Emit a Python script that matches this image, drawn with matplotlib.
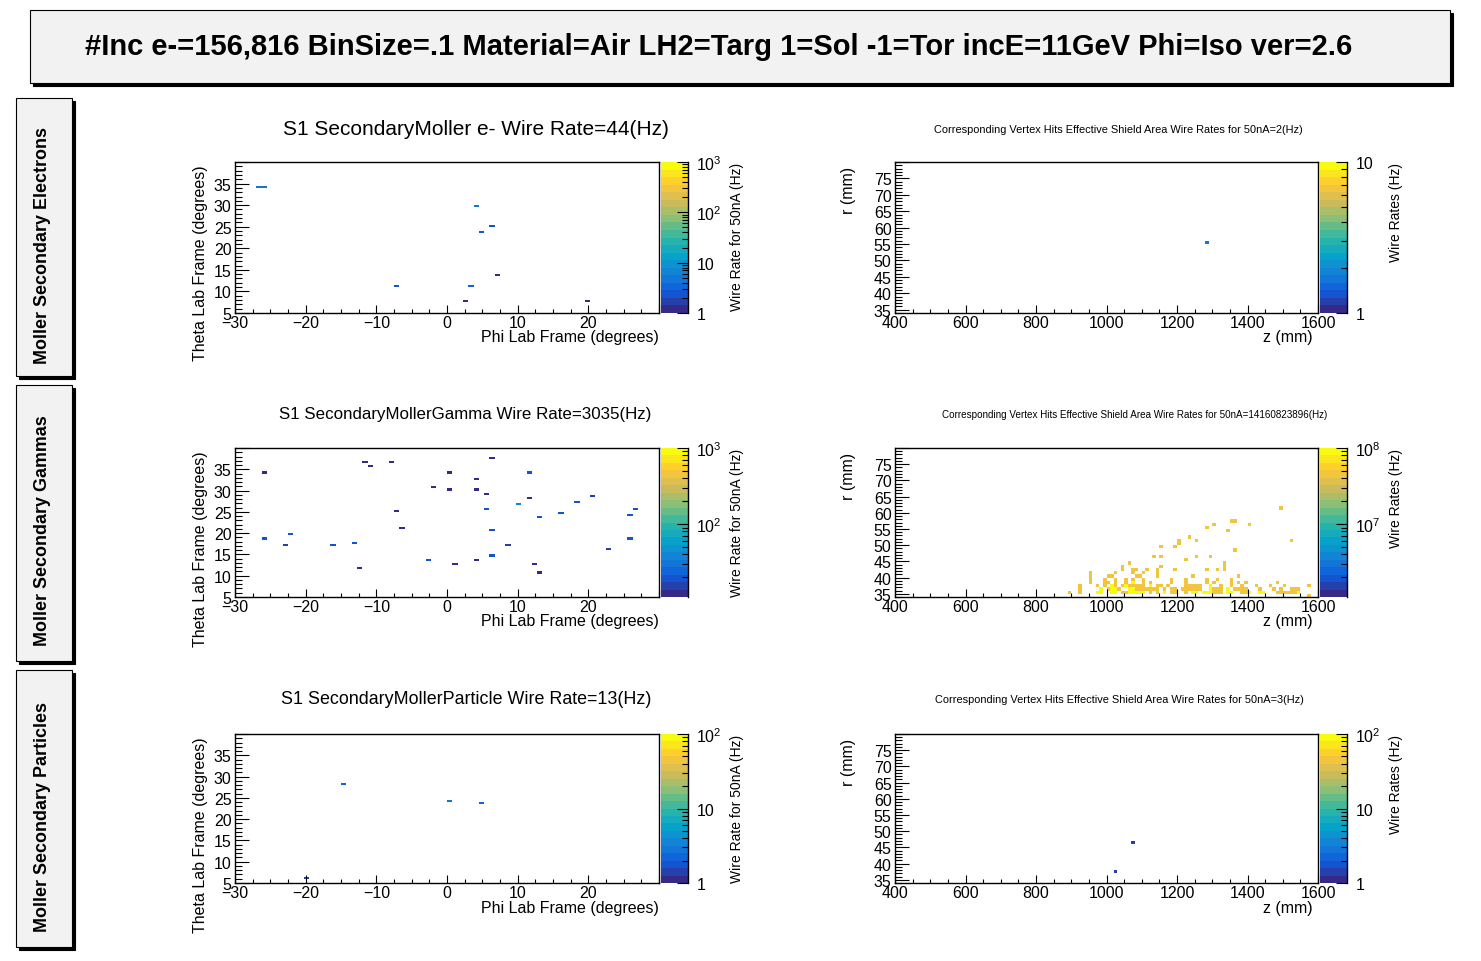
import matplotlib
matplotlib.use('Agg')
import matplotlib.pyplot as plt
import numpy as np
from matplotlib.colors import LinearSegmentedColormap, LogNorm
from matplotlib.patches import Rectangle
from matplotlib.ticker import MultipleLocator, LogLocator, FuncFormatter, NullFormatter

plt.rcParams['font.family'] = ['Liberation Sans', 'DejaVu Sans']
plt.rcParams['mathtext.fontset'] = 'custom'
plt.rcParams['mathtext.rm'] = 'Liberation Sans'
plt.rcParams['mathtext.it'] = 'Liberation Sans:italic'

W, H = 1481, 962

main_title = '#Inc e-=156,816 BinSize=.1 Material=Air LH2=Targ 1=Sol -1=Tor incE=11GeV Phi=Iso ver=2.6'
row_labels = ['Moller Secondary Electrons', 'Moller Secondary Gammas', 'Moller Secondary Particles']
hit_titles = ['S1 SecondaryMoller e- Wire Rate=44(Hz)',
              'S1 SecondaryMollerGamma Wire Rate=3035(Hz)',
              'S1 SecondaryMollerParticle Wire Rate=13(Hz)']
vtx_titles = ['Corresponding Vertex Hits Effective Shield Area Wire Rates for 50nA=2(Hz)',
              'Corresponding Vertex Hits Effective Shield Area Wire Rates for 50nA=14160823896(Hz)',
              'Corresponding Vertex Hits Effective Shield Area Wire Rates for 50nA=3(Hz)']

# wire hits: phi (deg), theta (deg), rate (Hz)
ele_phi = [-26.3, -25.6, 3.9, 6.3, 4.7, 7.1, -7.3, 3.1, 2.3, 19.8]
ele_theta = [34.3, 34.3, 29.8, 25.4, 23.8, 13.7, 11.3, 11.3, 7.7, 7.7]
ele_rate = [4.5, 4.5, 4.5, 2.3, 2.3, 1.3, 2.3, 3.5, 1.3, 1.3]

gam_phi = [-25.6, -25.6, -22.5, -23.2, -16.1, -12.9, -12.1, -11.3, -10.6, -8.2,
           -7.3, -6.5, -2.5, -1.7, 0.7, 0.7, 1.4, 3.8, 3.8, 3.8,
           5.5, 5.5, 6.2, 6.2, 6.2, 8.6, 10.2, 11.9, 11.9, 12.6,
           13.4, 13.4, 15.8, 18.2, 20.6, 23.0, 26.2, 26.2, 26.9]
gam_theta = [34.4, 18.8, 19.5, 17.3, 17.3, 17.7, 11.7, 36.8, 35.7, 36.5,
             25.2, 21.2, 13.6, 30.8, 34.4, 30.0, 12.5, 32.8, 30.0, 13.6,
             29.3, 25.6, 37.7, 20.8, 14.5, 17.3, 26.8, 34.4, 28.0, 12.5,
             23.6, 10.8, 24.5, 27.2, 28.8, 16.4, 24.0, 18.5, 25.6]
gam_rate = [13, 19, 19, 14, 20, 19, 13, 13, 13, 13,
            13, 13, 20, 13, 13, 13, 13, 13, 13, 13,
            13, 19, 13, 19, 20, 17, 40, 19, 13, 13,
            19, 13, 19, 19, 17, 14, 20, 19, 19]

par_phi = [-20.0, -14.4, 0.7, 4.7]
par_theta = [6.1, 28.4, 24.0, 23.6]
par_rate = [1.3, 2.2, 2.8, 2.4]

# vertex hits: z (mm), r (mm), rate (Hz)
vtx_ele_z = [1285]
vtx_ele_r = [55.5]
vtx_ele_rate = [1.7]

vtx_par_z = [1025, 1075]
vtx_par_r = [37.5, 46.5]
vtx_par_rate = [1.4, 1.4]

# gamma vertices, one entry per r row: lower-rate (orange) and top-rate (yellow) cells
vtx_gam_rows = [34.5, 35.5, 36.5, 37.5, 38.5, 39.5, 40.5, 41.5, 42.5, 43.5, 44.5, 45.5,
                46.5, 48.5, 49.5, 50.5, 51.5, 52.5, 54.5, 55.5, 56.5, 57.5, 61.5]
vtx_gam_z_lo = [
    [1575],
    [895, 925, 1045, 1055, 1125, 1145, 1185, 1195, 1225, 1305, 1315, 1325, 1385, 1395, 1485, 1495, 1505, 1515,
     1525, 1535],
    [925, 1035, 1095, 1105, 1115, 1125, 1135, 1145, 1165, 1185, 1195, 1215, 1225, 1235, 1245, 1255, 1265, 1305,
     1315, 1325, 1365, 1375, 1385, 1395, 1435, 1475, 1495, 1525, 1535, 1545, 1005, 1085],
    [925, 975, 995, 1025, 1045, 1065, 1075, 1085, 1095, 1105, 1145, 1155, 1175, 1225, 1235, 1245, 1255, 1265,
     1325, 1355, 1385, 1425, 1465, 1505, 1575],
    [955, 995, 1005, 1025, 1055, 1105, 1125, 1185, 1225, 1285, 1305, 1355, 1375, 1395, 1485],
    [955, 995, 1025, 1055, 1075, 1105, 1185, 1225, 1285, 1315, 1355],
    [955, 1005, 1015, 1085, 1095, 1145, 1245, 1375],
    [955, 1025, 1075, 1105, 1145],
    [1045, 1075, 1085, 1115, 1145, 1195, 1285, 1315, 1335],
    [1045, 1155, 1335],
    [1065, 1335],
    [1225],
    [1135, 1155, 1255, 1295],
    [1365],
    [1155, 1195],
    [1205],
    [1205, 1255, 1525],
    [1235],
    [1345],
    [1285],
    [1305, 1405],
    [1355, 1365],
    [1495],
]
vtx_gam_z_hi = [
    [],
    [975, 985, 1015, 1025, 1065, 1075, 1085, 1095, 1105, 1165, 1245, 1255, 1275, 1285,
     1295, 1345, 1355, 1405, 1435, 1445, 1545],
    [985, 1015, 1025, 1065, 1075, 1295, 1345],
    [1015, 1055, 1125, 1295],
    [1075],
] + [[]] * 18
vtx_gam_rate_lo = 4.6e7
vtx_gam_rate_hi = 1.2e8

hit_zrange = [(1, 1e3), (11, 1e3), (1, 1e2)]
vtx_zrange = [(1, 10), (1.1e6, 1e8), (1, 1e2)]

# ROOT kBird palette, 20 contour bands
bird_stops = [0.0, 0.125, 0.25, 0.375, 0.5, 0.625, 0.75, 0.875, 1.0]
bird_r = [0.2082, 0.0592, 0.0780, 0.0232, 0.1802, 0.5301, 0.8186, 0.9956, 0.9764]
bird_g = [0.1664, 0.3599, 0.5041, 0.6419, 0.7178, 0.7492, 0.7328, 0.7862, 0.9832]
bird_b = [0.5293, 0.8684, 0.8385, 0.7914, 0.6425, 0.4662, 0.3499, 0.1968, 0.0539]
bird = LinearSegmentedColormap.from_list(
    'bird', list(zip(bird_stops, zip(bird_r, bird_g, bird_b))), N=20)


def fx(px):
    return px / W


def fy(py):
    return 1 - py / H


def log_label(v, pos):
    e = int(round(np.log10(v)))
    if e == 0:
        return '1'
    if e == 1:
        return '10'
    return r'$10^{%d}$' % e


def skip_label(last):
    # ROOT leaves the tick at the upper axis end unlabelled
    return FuncFormatter(lambda v, pos: '' if abs(v - last) < 1e-6 else ('%g' % v).replace('-', '\u2212'))


def pave(fig, x0, y0, x1, y1, shadow=3):
    fig.add_artist(Rectangle((fx(x0 + shadow), fy(y1 + shadow)), fx(x1 - x0), (y1 - y0) / H,
                             transform=fig.transFigure, facecolor='black', edgecolor='black', lw=0.8))
    fig.add_artist(Rectangle((fx(x0), fy(y1)), fx(x1 - x0), (y1 - y0) / H,
                             transform=fig.transFigure, facecolor='#f2f2f2', edgecolor='black', lw=0.8))


def draw_panel(fig, left, top, width, height, x, y, w, xbins, ybins, zr):
    ax = fig.add_axes([fx(left), fy(top + height), fx(width), height / H])
    cax = fig.add_axes([fx(left + width + 2), fy(top + height), fx(27), height / H])
    h, xe, ye = np.histogram2d(x, y, bins=[xbins, ybins], weights=w)
    h = np.ma.masked_less_equal(h, 0)
    mesh = ax.pcolormesh(xe, ye, h.T, cmap=bird, norm=LogNorm(*zr), edgecolors='none',
                         antialiased=False)
    cb = fig.colorbar(mesh, cax=cax)
    cb.outline.set_visible(False)
    cax.yaxis.set_major_locator(LogLocator(base=10))
    cax.yaxis.set_minor_locator(LogLocator(base=10, subs=np.arange(2, 10)))
    cax.yaxis.set_major_formatter(FuncFormatter(log_label))
    cax.yaxis.set_minor_formatter(NullFormatter())
    cax.tick_params(which='both', direction='in', right=True, left=False, labelsize=11.5, pad=6, width=0.8)
    cax.tick_params(which='major', length=8)
    cax.tick_params(which='minor', length=4)
    cax.plot([1, 1], [0, 1], transform=cax.transAxes, color='black', lw=1, clip_on=False)

    ax.set_xlim(xbins[0], xbins[-1])
    ax.set_ylim(ybins[0], ybins[-1])
    for s in ax.spines.values():
        s.set_linewidth(1)
    ax.tick_params(which='both', direction='in', top=False, right=False, labelsize=11.5, width=0.8)
    ax.tick_params(axis='x', which='major', length=6, pad=1.5)
    ax.tick_params(axis='x', which='minor', length=3)
    ax.tick_params(axis='y', which='major', length=10, pad=2.5)
    ax.tick_params(axis='y', which='minor', length=5)
    return ax


fig = plt.figure(figsize=(W / 100, H / 100), dpi=100)

# title pave and row labels
pave(fig, 30, 11, 1450, 84)
fig.text(fx(719), fy(47), main_title, ha='center', va='center', fontsize=21, fontweight='bold')

box_tops = [99, 386, 671]
box_bots = [377, 662, 948]
for i in range(3):
    pave(fig, 16, box_tops[i], 72, box_bots[i])
    fig.text(fx(43), fy((box_tops[i] + box_bots[i]) / 2 + 7), row_labels[i], rotation=90,
             ha='center', va='center', fontsize=12.9, fontweight='bold')

phi_bins = np.linspace(-30, 30, 81)
theta_bins = np.linspace(5, 40, 71)
z_bins = np.arange(400, 1601, 10)
r_bins = np.arange(34, 81, 1)

gam_z = [z for row in vtx_gam_z_lo for z in row] + [z for row in vtx_gam_z_hi for z in row]
gam_r = [r for r, row in zip(vtx_gam_rows, vtx_gam_z_lo) for z in row] + \
        [r for r, row in zip(vtx_gam_rows, vtx_gam_z_hi) for z in row]
gam_w = [vtx_gam_rate_lo for row in vtx_gam_z_lo for z in row] + \
        [vtx_gam_rate_hi for row in vtx_gam_z_hi for z in row]

hits = [(ele_phi, ele_theta, ele_rate), (gam_phi, gam_theta, gam_rate), (par_phi, par_theta, par_rate)]
vtxs = [(vtx_ele_z, vtx_ele_r, vtx_ele_rate), (gam_z, gam_r, gam_w), (vtx_par_z, vtx_par_r, vtx_par_rate)]

row_tops = [163, 449, 735]
row_h = [151, 149, 149]
title_y = [130, 415, 700]
hit_title_size = [15, 12.2, 12.9]
hit_title_x = [476, 465, 466]
vtx_title_size = [7.9, 7.15, 7.9]
vtx_title_x = [1118, 1135, 1119]

for i in range(3):
    top, hgt = row_tops[i], row_h[i]
    # left: wire hit map
    ax = draw_panel(fig, 235, top, 424, hgt, *hits[i], phi_bins, theta_bins, hit_zrange[i])
    ax.xaxis.set_major_locator(MultipleLocator(10))
    ax.xaxis.set_minor_locator(MultipleLocator(2.5))
    ax.yaxis.set_major_locator(MultipleLocator(5))
    ax.yaxis.set_minor_locator(MultipleLocator(1))
    ax.xaxis.set_major_formatter(skip_label(30))
    ax.yaxis.set_major_formatter(skip_label(40))
    fig.text(fx(hit_title_x[i]), fy(title_y[i]), hit_titles[i], ha='center', va='center',
             fontsize=hit_title_size[i])
    fig.text(fx(200), fy(top + 2), 'Theta Lab Frame (degrees)', rotation=90, ha='center', va='top',
             fontsize=11.5)
    fig.text(fx(659), fy(top + hgt + 24), 'Phi Lab Frame (degrees)', ha='right', va='center', fontsize=11.5)
    fig.text(fx(737), fy(top), 'Wire Rate for 50nA (Hz)', rotation=90, ha='center', va='top', fontsize=10)

    # right: vertex map
    ax = draw_panel(fig, 895, top, 423, hgt, *vtxs[i], z_bins, r_bins, vtx_zrange[i])
    ax.xaxis.set_major_locator(MultipleLocator(200))
    ax.xaxis.set_minor_locator(MultipleLocator(50))
    ax.yaxis.set_major_locator(MultipleLocator(5))
    ax.yaxis.set_minor_locator(MultipleLocator(1))
    ax.yaxis.set_major_formatter(skip_label(80))
    fig.text(fx(vtx_title_x[i]), fy(title_y[i]), vtx_titles[i], ha='center', va='center',
             fontsize=vtx_title_size[i])
    fig.text(fx(849), fy(top + 4), 'r (mm)', rotation=90, ha='center', va='top', fontsize=11.5)
    fig.text(fx(1313), fy(top + hgt + 24), 'z (mm)', ha='right', va='center', fontsize=11.5)
    fig.text(fx(1396), fy(top), 'Wire Rates (Hz)', rotation=90, ha='center', va='top', fontsize=10)

plt.savefig('out.png', dpi=100)
